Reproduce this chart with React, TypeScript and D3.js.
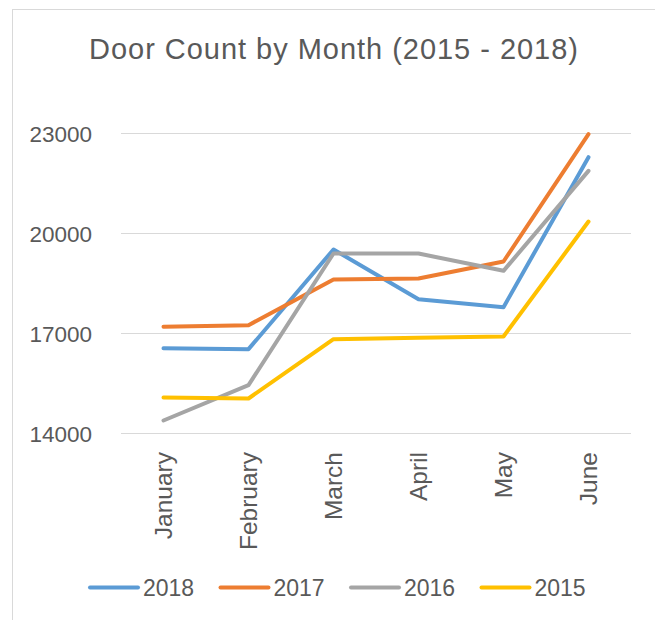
import React from 'react'
import * as d3 from 'd3'

const months = ['January', 'February', 'March', 'April', 'May', 'June']
const yTicks = [14000, 17000, 20000, 23000]

const series2018 = [16560, 16530, 19520, 18030, 17790, 22290]
const series2017 = [17200, 17250, 18620, 18650, 19160, 22980]
const series2016 = [14390, 15450, 19400, 19400, 18880, 21880]
const series2015 = [15080, 15050, 16830, 16870, 16910, 20360]

const seriesNames = ['2018', '2017', '2016', '2015']
const seriesColors = ['#5B9BD5', '#ED7D31', '#A5A5A5', '#FFC000']

const W = 655
const H = 620
const font = '"Liberation Sans", Arial, sans-serif'
const textColor = '#595959'

const App = () => {
  const allSeries = [series2018, series2017, series2016, series2015]

  const x = d3.scaleBand<string>().domain(months).range([121, 631])
  const y = d3.scaleLinear().domain([14000, 23000]).range([433.5, 133.5])
  const cx = (m: string) => (x(m) as number) + x.bandwidth() / 2

  const line = d3
    .line<number>()
    .x((d, i) => cx(months[i]))
    .y((d) => y(d))

  // legend sits in a row under the month labels
  const legend = d3.scaleBand<string>().domain(seriesNames).range([89, 611])

  return (
    <svg
      width={W}
      height={H}
      viewBox={`0 0 ${W} ${H}`}
      style={{ position: 'absolute', left: 0, top: 0, background: '#fff' }}
    >
      <rect x={0} y={0} width={W} height={H} fill="#fff" />
      <rect x={12.5} y={9.5} width={W + 20} height={H + 20} fill="none" stroke="#D9D9D9" />

      <text
        x={333.5}
        y={58.5}
        textAnchor="middle"
        fontFamily={font}
        fontSize={29}
        fill={textColor}
        textLength={489}
        lengthAdjust="spacing"
      >
        Door Count by Month (2015 - 2018)
      </text>

      {/* grid + y labels */}
      {yTicks.map((t) => (
        <g key={t}>
          <line x1={121} x2={631} y1={y(t)} y2={y(t)} stroke="#D9D9D9" strokeWidth={1} />
          <text
            x={92}
            y={y(t)}
            dy="0.36em"
            textAnchor="end"
            fontFamily={font}
            fontSize={22.5}
            fill={textColor}
          >
            {t}
          </text>
        </g>
      ))}

      {/* month labels, rotated */}
      {months.map((m) => (
        <text
          key={m}
          transform={`translate(${cx(m)},452) rotate(-90)`}
          dy="0.36em"
          textAnchor="end"
          fontFamily={font}
          fontSize={24.5}
          fill={textColor}
        >
          {m}
        </text>
      ))}

      {allSeries.map((s, i) => (
        <path
          key={seriesNames[i]}
          d={line(s) || ''}
          fill="none"
          stroke={seriesColors[i]}
          strokeWidth={4}
          strokeLinecap="round"
          strokeLinejoin="round"
        />
      ))}

      {seriesNames.map((n, i) => {
        const lx = legend(n) as number
        return (
          <g key={n}>
            <line
              x1={lx + 1}
              x2={lx + 49}
              y1={587.5}
              y2={587.5}
              stroke={seriesColors[i]}
              strokeWidth={4}
              strokeLinecap="round"
            />
            <text
              x={lx + 54}
              y={587.5}
              dy="0.36em"
              fontFamily={font}
              fontSize={23}
              fill={textColor}
            >
              {n}
            </text>
          </g>
        )
      })}
    </svg>
  )
}

export default App
